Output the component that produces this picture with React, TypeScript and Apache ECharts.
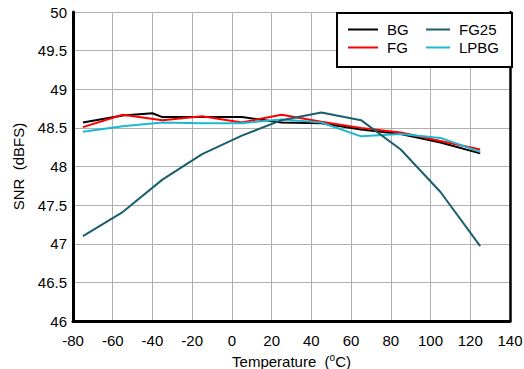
import React, { useEffect, useRef } from "react";
import * as echarts from "echarts";

const temps = [-75, -55, -35, -15, 5, 25, 45, 65, 85, 105, 125];
const bgTemps = [-75, -55, -40, -35, -15, 5, 25, 45, 65, 85, 105, 125];
const bgSnr = [48.57, 48.66, 48.69, 48.64, 48.64, 48.64, 48.57, 48.56, 48.48, 48.42, 48.31, 48.17];
const fgSnr = [48.51, 48.67, 48.6, 48.65, 48.57, 48.67, 48.58, 48.5, 48.44, 48.33, 48.22];
const fg25Snr = [47.1, 47.41, 47.83, 48.16, 48.4, 48.6, 48.7, 48.6, 48.22, 47.67, 46.97];
const lpbgSnr = [48.45, 48.52, 48.57, 48.56, 48.56, 48.61, 48.57, 48.39, 48.42, 48.37, 48.19];

const colors = { BG: "#000000", FG: "#ff0000", FG25: "#1b5f6e", LPBG: "#1ab9d2" };
const FONT = "Liberation Sans";

const pair = (xs: number[], ys: number[]) => xs.map((x, i) => [x, ys[i]]);

export default function App() {
  const ref = useRef<HTMLDivElement>(null);
  useEffect(() => {
    if (!ref.current) return;
    const chart = echarts.init(ref.current, undefined, { renderer: "svg" });
    const mk = (name: string, data: number[][]) => ({
      name,
      type: "line",
      data,
      symbol: "none",
      lineStyle: { width: 2, color: (colors as any)[name] },
      itemStyle: { color: (colors as any)[name] },
    });
    const legendCommon = {
      orient: "vertical",
      top: 22,
      padding: 0,
      icon: "rect",
      itemHeight: 2,
      itemGap: 3,
      textStyle: { fontFamily: FONT, fontSize: 15, lineHeight: 15, color: "#000", padding: [0, 0, 0, 4] },
    };
    chart.setOption({
      animation: false,
      grid: { left: 73, right: 14, top: 12, bottom: 48, outerBoundsMode: "none", containLabel: false },
      xAxis: {
        type: "value",
        min: -80,
        max: 140,
        interval: 20,
        name: "Temperature  ({sup|o}C)",
        nameLocation: "middle",
        nameGap: 23,
        nameTextStyle: {
          fontFamily: FONT,
          fontSize: 15,
          color: "#000",
          verticalAlign: "top",
          rich: { sup: { fontFamily: FONT, fontSize: 10, color: "#000", padding: [0, 0, 8, 0] } },
        },
        axisLine: { show: true, onZero: false, lineStyle: { color: "#000", width: 3 } },
        axisTick: { show: false },
        axisLabel: { fontFamily: FONT, fontSize: 15, color: "#000", margin: 12 },
        splitLine: { show: true, lineStyle: { color: "#b0b0b0", width: 1 } },
      },
      yAxis: [
        {
          type: "value",
          min: 46,
          max: 50,
          interval: 0.5,
          name: "SNR  (dBFS)",
          nameLocation: "middle",
          nameGap: 47,
          nameTextStyle: { fontFamily: FONT, fontSize: 15, color: "#000" },
          axisLine: { show: true, onZero: false, lineStyle: { color: "#000", width: 3 } },
          axisTick: { show: false },
          axisLabel: { fontFamily: FONT, fontSize: 15, color: "#000", margin: 6 },
          splitLine: { show: true, lineStyle: { color: "#b0b0b0", width: 1 } },
        },
        {
          type: "value",
          position: "right",
          min: 46,
          max: 50,
          axisLine: { show: true, onZero: false, lineStyle: { color: "#000", width: 2.5 } },
          axisTick: { show: false },
          axisLabel: { show: false },
          splitLine: { show: false },
        },
      ],
      legend: [
        { ...legendCommon, left: 348, itemWidth: 30, data: ["BG", "FG"] },
        { ...legendCommon, left: 426, itemWidth: 24, data: ["FG25", "LPBG"] },
      ],
      graphic: [
        {
          type: "rect",
          z: 3,
          shape: { x: 337, y: 13, width: 175, height: 54 },
          style: { fill: "#fff", stroke: "#000", lineWidth: 2 },
        },
      ],
      series: [
        mk("BG", pair(bgTemps, bgSnr)),
        mk("FG", pair(temps, fgSnr)),
        mk("LPBG", pair(temps, lpbgSnr)),
        mk("FG25", pair(temps, fg25Snr)),
      ],
    });
    return () => chart.dispose();
  }, []);
  return <div ref={ref} style={{ width: 524, height: 369, position: "absolute", left: 0, top: 0, background: "#fff" }} />;
}
